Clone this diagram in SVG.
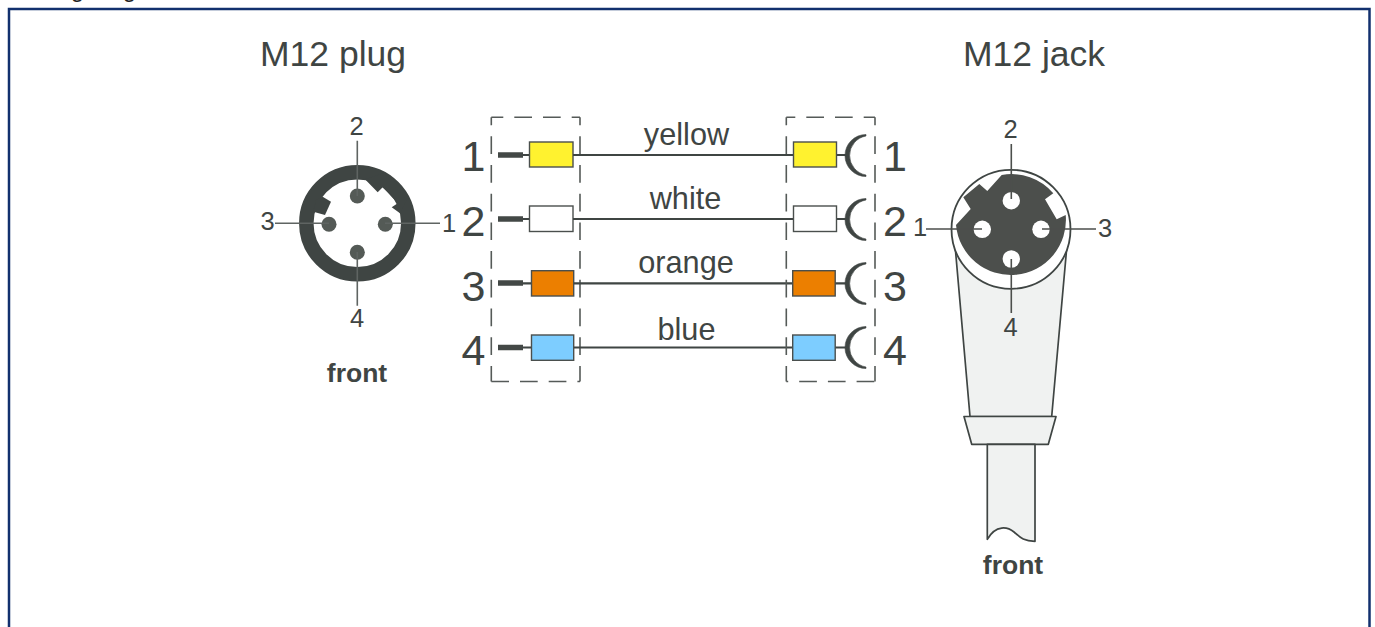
<svg xmlns="http://www.w3.org/2000/svg" width="1375" height="627" viewBox="0 0 1375 627">
<style>
text{font-family:"Liberation Sans",Arial,sans-serif;fill:#3f4543}
.t{font-size:35.500px}.n{font-size:43px}.c{font-size:30.700px}.p{font-size:25.500px}.b{font-size:26.500px;font-weight:bold}
.a{text-anchor:middle}
.w{fill:none;stroke:#3f4543;stroke-width:2.200}
.l{fill:none;stroke:#5f6462;stroke-width:1.600}
.pin{stroke:#434846;stroke-width:5.500;fill:none}
.d{fill:none;stroke:#555a58;stroke-width:1.600;stroke-dasharray:17.700 11}
.box{stroke:#4a4f4d;stroke-width:1.400}
.o{fill:#f0f2f1;stroke:#3f4543;stroke-width:1.700;stroke-linejoin:round}
</style>
<defs><path id="cup" d="M866 134.500A21 21 0 0 0 866 176.500V175A19.800 19.800 0 0 1 866 136Z" fill="#3f4543" stroke="#3f4543" stroke-width=".6" stroke-linejoin="round"/></defs>
<rect width="1375" height="627" fill="#fff"/>
<text x="16" y="-3" style="font-size:24px;fill:#222">Wiring diagram</text>
<rect x="9" y="9" width="1360.500" height="640" fill="#fff" stroke="#12306e" stroke-width="2.500"/>
<text class="t" x="260" y="65.500">M12 plug</text>
<text class="t" x="963" y="65.500">M12 jack</text>
<g id="plug">
<circle cx="357.300" cy="223.300" r="51" fill="none" stroke="#3f4543" stroke-width="14.500"/>
<path d="M322.700 196.700L331 201.700L325 215L313.300 211.700L316 200Z" fill="#3f4543"/>
<path d="M365 179.300L377.700 192.300L382.700 187.300L397.700 203.300L391.700 207.300L400 213.300L406.700 200L383.300 173.300Z" fill="#3f4543"/>
<circle cx="357.300" cy="196" r="7.500" fill="#545a56"/><circle cx="329" cy="224.300" r="7.500" fill="#545a56"/><circle cx="385.300" cy="224.300" r="7.500" fill="#545a56"/><circle cx="357.300" cy="252.300" r="7.500" fill="#545a56"/>
<path class="l" d="M357.300 140.700V196M275 223.300H329M385 223.300H440M357.300 252V305.700"/>
<text class="p a" x="356.500" y="135">2</text><text class="p a" x="267.500" y="230">3</text><text class="p a" x="449" y="232">1</text><text class="p a" x="357" y="327">4</text>
<text class="b a" x="357" y="382">front</text>
</g>
<g id="left-block">
<path class="d" style="stroke-dashoffset:5.700" d="M491.300 117.300H580"/>
<path class="d" style="stroke-dashoffset:9.700" d="M491.300 117.300V381.500M580 117.300V381.500"/>
<path class="d" d="M491.300 381.500H580"/>
<text class="n a" x="473.500" y="171">1</text><text class="n a" x="473.500" y="235.500">2</text><text class="n a" x="473.500" y="300.500">3</text><text class="n a" x="473.500" y="364.500">4</text>
<path class="pin" d="M498 155H523M498 219H523M498 283H523M498 347.500H523"/>
<rect class="box" x="529.500" y="142" width="43.500" height="25" fill="#fff22f"/><rect class="box" x="529.500" y="206" width="43.500" height="25.500" fill="#fff" stroke="#8a8d8c"/><rect class="box" x="531.500" y="270.700" width="42.200" height="25.300" fill="#ec7f00"/><rect class="box" x="531.500" y="335" width="42.200" height="25.300" fill="#7dcdff"/>
</g>
<g id="connectors">
<path class="w" d="M523 155H529M523 219H529M523 283.300H531M523 347.500H531"/>
<path class="w" d="M573 155H793M573 219H793M574 283.300H793M574 347.500H793"/>
<path class="w" d="M836 155H846M836 219H846M835 283.300H846M835 347.500H846"/>
</g>
<g id="labels"><text class="c a" x="686.500" y="144.500">yellow</text><text class="c a" x="685.500" y="208.500">white</text><text class="c a" x="686" y="273">orange</text><text class="c a" x="686.500" y="339.500">blue</text></g>
<g id="right-block">
<path class="d" style="stroke-dashoffset:8.700" d="M786.300 117.300H875"/>
<path class="d" style="stroke-dashoffset:9.700" d="M786.300 117.300V381.500M875 117.300V381.500"/>
<path class="d" style="stroke-dashoffset:15.800" d="M786.300 381.500H875"/>
<rect class="box" x="793.500" y="142" width="43" height="25" fill="#fff22f"/><rect class="box" x="793.500" y="206" width="43" height="25.500" fill="#fff" stroke="#8a8d8c"/><rect class="box" x="792.700" y="270.700" width="42.500" height="25.300" fill="#ec7f00"/><rect class="box" x="792.700" y="335" width="42.500" height="25.300" fill="#7dcdff"/>
<use href="#cup"/><use href="#cup" y="64"/><use href="#cup" y="128"/><use href="#cup" y="192"/>
<text class="n a" x="895" y="171">1</text><text class="n a" x="895" y="235.500">2</text><text class="n a" x="895" y="300.500">3</text><text class="n a" x="895" y="364.500">4</text>
</g>
<g id="jack">
<path class="o" d="M955 245L970 416.500H1051.700L1067 245Z"/>
<path class="o" d="M964 416.500H1056L1048.300 444.300H971.700Z"/>
<path class="o" d="M987.300 444.300H1035V541.300C1022 541.300 1019 536 1014 532C1008 527 996 524 987.300 539.300Z"/>
<circle cx="1011" cy="229.300" r="59.500" fill="#fff" stroke="#3f4543" stroke-width="1.800"/>
<path d="M1001.700 175A55 55 0 0 1 1053.300 193.300L1045 199.300L1056.700 219.300L1065.700 215A55 55 0 1 1 956 225L970.700 209L963.300 197.300L979.300 184L987.300 191Z" fill="#4c4f4c"/>
<circle cx="1011.300" cy="200.700" r="8.700" fill="#fff"/><circle cx="982.300" cy="229.300" r="8.700" fill="#fff"/><circle cx="1041" cy="229.300" r="8.700" fill="#fff"/><circle cx="1011.300" cy="259" r="8.700" fill="#fff"/>
<path class="l" style="stroke:#4c4f4c" d="M1011.300 144V199M926 229H982M1042 229H1096M1011.300 259V313"/>
<text class="p a" x="1010.500" y="138">2</text><text class="p a" x="920" y="236">1</text><text class="p a" x="1105" y="236.500">3</text><text class="p a" x="1010.700" y="336">4</text>
<text class="b a" x="1013" y="573.500">front</text>
</g>
</svg>
